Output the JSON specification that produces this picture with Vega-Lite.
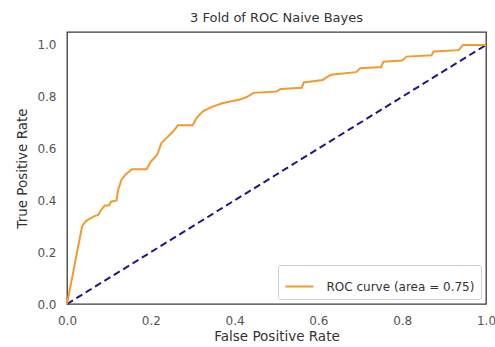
{
  "$schema": "https://vega.github.io/schema/vega-lite/v6.json",
  "width": 419,
  "height": 272,
  "autosize": {"type": "none"},
  "padding": {"left": 67, "top": 32, "right": 9, "bottom": 43},
  "background": "white",
  "config": {
    "font": "DejaVu Sans",
    "view": {"stroke": "#3a3a3a", "strokeWidth": 1.3},
    "axis": {
      "domain": false,
      "grid": false,
      "ticks": false,
      "labelFlush": false,
      "labelFont": "DejaVu Sans",
      "labelFontSize": 12,
      "labelColor": "#555555",
      "titleFont": "DejaVu Sans",
      "titleFontSize": 13.5,
      "titleFontWeight": "normal",
      "titleColor": "#333333"
    },
    "title": {"font": "DejaVu Sans", "fontSize": 13, "fontWeight": "normal", "color": "#333333", "offset": 7}
  },
  "title": "3 Fold of ROC Naive Bayes",
  "datasets": {
    "roc": [
      {"fpr": 0.0, "tpr": 0.0, "series": "ROC curve (area = 0.75)"},
      {"fpr": 0.036, "tpr": 0.30, "series": "ROC curve (area = 0.75)"},
      {"fpr": 0.045, "tpr": 0.32, "series": "ROC curve (area = 0.75)"},
      {"fpr": 0.055, "tpr": 0.33, "series": "ROC curve (area = 0.75)"},
      {"fpr": 0.067, "tpr": 0.34, "series": "ROC curve (area = 0.75)"},
      {"fpr": 0.075, "tpr": 0.345, "series": "ROC curve (area = 0.75)"},
      {"fpr": 0.08, "tpr": 0.36, "series": "ROC curve (area = 0.75)"},
      {"fpr": 0.09, "tpr": 0.38, "series": "ROC curve (area = 0.75)"},
      {"fpr": 0.10, "tpr": 0.38, "series": "ROC curve (area = 0.75)"},
      {"fpr": 0.105, "tpr": 0.395, "series": "ROC curve (area = 0.75)"},
      {"fpr": 0.118, "tpr": 0.40, "series": "ROC curve (area = 0.75)"},
      {"fpr": 0.122, "tpr": 0.44, "series": "ROC curve (area = 0.75)"},
      {"fpr": 0.13, "tpr": 0.48, "series": "ROC curve (area = 0.75)"},
      {"fpr": 0.14, "tpr": 0.50, "series": "ROC curve (area = 0.75)"},
      {"fpr": 0.155, "tpr": 0.52, "series": "ROC curve (area = 0.75)"},
      {"fpr": 0.19, "tpr": 0.52, "series": "ROC curve (area = 0.75)"},
      {"fpr": 0.20, "tpr": 0.55, "series": "ROC curve (area = 0.75)"},
      {"fpr": 0.215, "tpr": 0.575, "series": "ROC curve (area = 0.75)"},
      {"fpr": 0.225, "tpr": 0.62, "series": "ROC curve (area = 0.75)"},
      {"fpr": 0.24, "tpr": 0.645, "series": "ROC curve (area = 0.75)"},
      {"fpr": 0.25, "tpr": 0.66, "series": "ROC curve (area = 0.75)"},
      {"fpr": 0.265, "tpr": 0.69, "series": "ROC curve (area = 0.75)"},
      {"fpr": 0.30, "tpr": 0.69, "series": "ROC curve (area = 0.75)"},
      {"fpr": 0.31, "tpr": 0.72, "series": "ROC curve (area = 0.75)"},
      {"fpr": 0.325, "tpr": 0.745, "series": "ROC curve (area = 0.75)"},
      {"fpr": 0.345, "tpr": 0.76, "series": "ROC curve (area = 0.75)"},
      {"fpr": 0.37, "tpr": 0.775, "series": "ROC curve (area = 0.75)"},
      {"fpr": 0.415, "tpr": 0.79, "series": "ROC curve (area = 0.75)"},
      {"fpr": 0.43, "tpr": 0.80, "series": "ROC curve (area = 0.75)"},
      {"fpr": 0.445, "tpr": 0.815, "series": "ROC curve (area = 0.75)"},
      {"fpr": 0.50, "tpr": 0.82, "series": "ROC curve (area = 0.75)"},
      {"fpr": 0.51, "tpr": 0.83, "series": "ROC curve (area = 0.75)"},
      {"fpr": 0.56, "tpr": 0.835, "series": "ROC curve (area = 0.75)"},
      {"fpr": 0.565, "tpr": 0.855, "series": "ROC curve (area = 0.75)"},
      {"fpr": 0.61, "tpr": 0.865, "series": "ROC curve (area = 0.75)"},
      {"fpr": 0.63, "tpr": 0.885, "series": "ROC curve (area = 0.75)"},
      {"fpr": 0.69, "tpr": 0.895, "series": "ROC curve (area = 0.75)"},
      {"fpr": 0.70, "tpr": 0.91, "series": "ROC curve (area = 0.75)"},
      {"fpr": 0.75, "tpr": 0.915, "series": "ROC curve (area = 0.75)"},
      {"fpr": 0.755, "tpr": 0.935, "series": "ROC curve (area = 0.75)"},
      {"fpr": 0.80, "tpr": 0.94, "series": "ROC curve (area = 0.75)"},
      {"fpr": 0.81, "tpr": 0.955, "series": "ROC curve (area = 0.75)"},
      {"fpr": 0.87, "tpr": 0.96, "series": "ROC curve (area = 0.75)"},
      {"fpr": 0.875, "tpr": 0.975, "series": "ROC curve (area = 0.75)"},
      {"fpr": 0.935, "tpr": 0.98, "series": "ROC curve (area = 0.75)"},
      {"fpr": 0.945, "tpr": 1.0, "series": "ROC curve (area = 0.75)"},
      {"fpr": 1.0, "tpr": 1.0, "series": "ROC curve (area = 0.75)"}
    ],
    "chance": [
      {"fpr": 0.0, "tpr": 0.0},
      {"fpr": 1.0, "tpr": 1.0}
    ]
  },
  "layer": [
    {
      "data": {"name": "chance"},
      "mark": {"type": "line", "color": "#1a1a80", "strokeWidth": 2, "strokeDash": [7, 4]},
      "encoding": {
        "x": {"field": "fpr", "type": "quantitative"},
        "y": {"field": "tpr", "type": "quantitative"}
      }
    },
    {
      "data": {"name": "roc"},
      "mark": {"type": "line", "strokeWidth": 2},
      "encoding": {
        "x": {
          "field": "fpr", "type": "quantitative",
          "scale": {"domain": [0, 1], "nice": false, "zero": false},
          "axis": {"title": "False Positive Rate", "values": [0, 0.2, 0.4, 0.6, 0.8, 1.0], "format": ".1f", "labelPadding": 11, "titlePadding": 3}
        },
        "y": {
          "field": "tpr", "type": "quantitative",
          "scale": {"domain": [0, 1.05], "nice": false, "zero": false},
          "axis": {"title": "True Positive Rate", "values": [0, 0.2, 0.4, 0.6, 0.8, 1.0], "format": ".1f", "labelPadding": 11, "titlePadding": 7}
        },
        "order": {"field": "fpr", "type": "quantitative"},
        "color": {
          "field": "series", "type": "nominal",
          "scale": {"range": ["#f29b2c"]},
          "legend": {
            "title": null,
            "orient": "bottom-right",
            "offset": 5,
            "symbolType": "stroke",
            "symbolSize": 784,
            "symbolStrokeWidth": 2,
            "labelFont": "DejaVu Sans",
            "labelFontSize": 12,
            "labelColor": "#333333",
            "labelOffset": 12,
            "padding": 6.5,
            "strokeColor": "#d0d0d0",
            "fillColor": "white",
            "cornerRadius": 2
          }
        }
      }
    }
  ]
}
